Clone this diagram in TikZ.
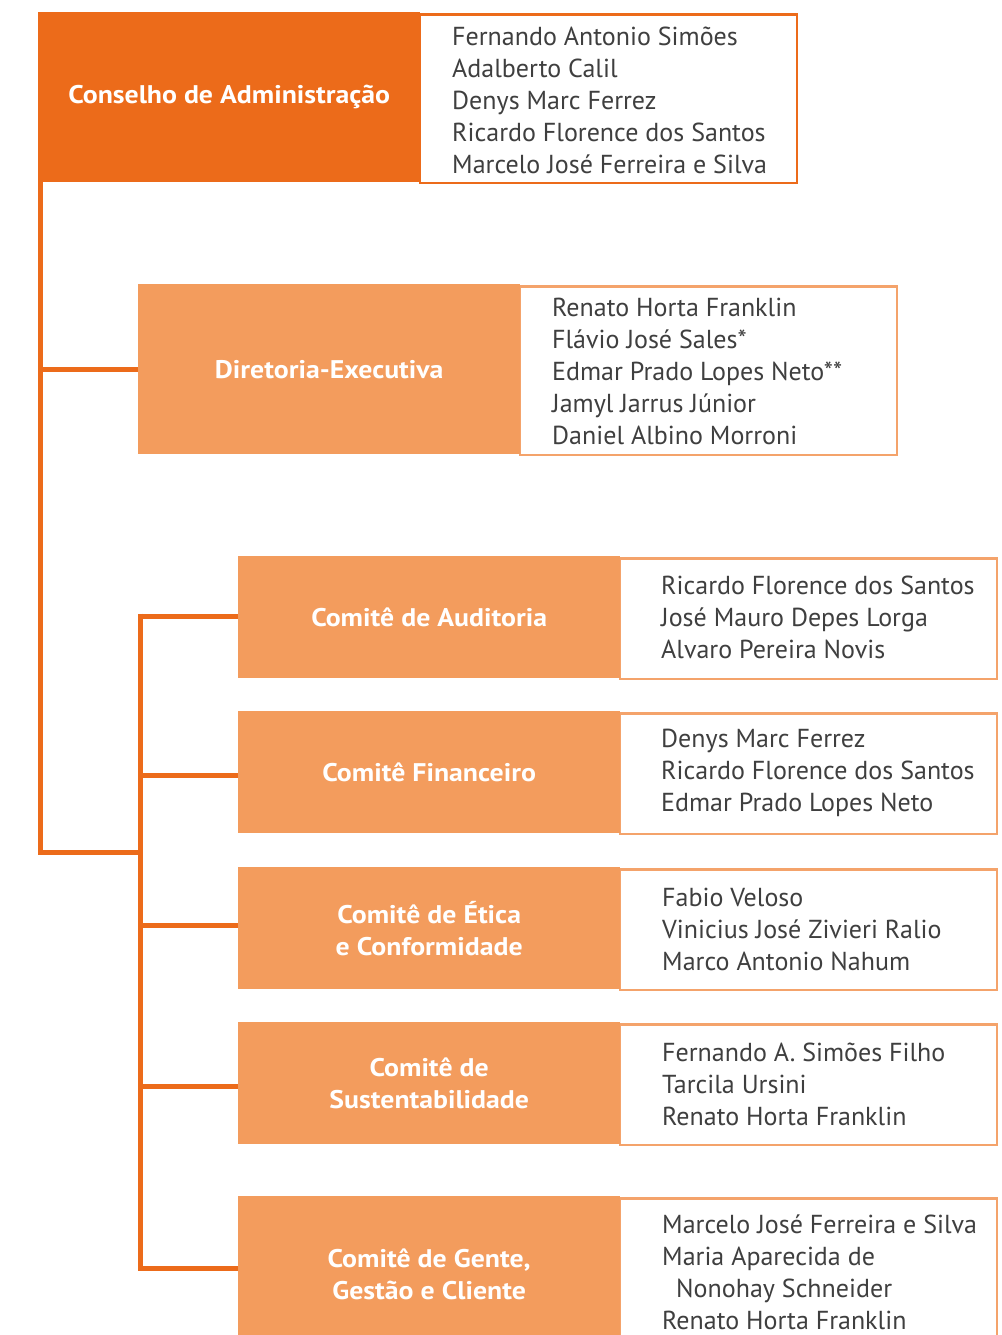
\documentclass[tikz,border=0pt]{standalone}
\usepackage{fontspec}
\setmainfont{PT Sans}
\newfontfamily\labelfont[FakeStretch=1.09]{PT Sans}
\definecolor{dko}{HTML}{EC6B1A}
\definecolor{lto}{HTML}{F39C5D}
\definecolor{ltb}{HTML}{F4A36B}
\definecolor{txt}{HTML}{3F3F3F}
\begin{document}
\begin{tikzpicture}[x=1pt,y=-1pt,
  headbox/.style={fill=#1, draw=none, minimum width=382pt, inner sep=0pt, anchor=north west,
    text=white, font=\labelfont\bfseries\fontsize{25.5}{32}\selectfont, align=center},
  namebox/.style={draw=#1, line width=2.5pt, fill=white, inner sep=0pt, anchor=north west},
  names/.style={anchor=west, inner sep=0pt, align=left, text=txt, font=\fontsize{26}{32}\selectfont},
  conn/.style={draw=dko, line width=5pt}
]
\useasboundingbox (0,0) rectangle (1001,1335);
% Conselho
\node[namebox=dko, minimum width=377pt, minimum height=168.5pt] (consw) at (418.5,13.25) {};
\node[headbox=dko, minimum height=170pt] (cons) at (38,12) {\raisebox{-3pt}{Conselho de Administração}};
\node[names] (consn) at (452,100) {Fernando Antonio Simões\\Adalberto Calil\\Denys Marc Ferrez\\Ricardo Florence dos Santos\\Marcelo José Ferreira e Silva};
% Diretoria
\node[namebox=ltb, minimum width=377pt, minimum height=168.5pt] (dirw) at (518.5,285.25) {};
\node[headbox=lto, minimum height=170pt] (dir) at (138,284) {\raisebox{-1pt}{Diretoria-Executiva}};
\node[names] (dirn) at (552,371) {Renato Horta Franklin\\Flávio José Sales*\\Edmar Prado Lopes Neto**\\Jamyl Jarrus Júnior\\Daniel Albino Morroni};
% Committees
\node[namebox=ltb, minimum width=377pt, minimum height=120.5pt] (audw) at (618.5,557.25) {};
\node[headbox=lto, minimum height=122pt] (aud) at (238,556) {\raisebox{-1pt}{Comitê de Auditoria}};
\node[names] (audn) at (661,617) {Ricardo Florence dos Santos\\José Mauro Depes Lorga\\Alvaro Pereira Novis};

\node[namebox=ltb, minimum width=377pt, minimum height=120.5pt] (finw) at (618.5,712.25) {};
\node[headbox=lto, minimum height=122pt] (fin) at (238,711) {\raisebox{-1pt}{Comitê Financeiro}};
\node[names] (finn) at (661,773) {Denys Marc Ferrez\\Ricardo Florence dos Santos\\Edmar Prado Lopes Neto};

\node[namebox=ltb, minimum width=377pt, minimum height=120.5pt] (etiw) at (618.5,868.25) {};
\node[headbox=lto, minimum height=122pt] (eti) at (238,867) {Comitê de Ética\\e Conformidade};
\node[names] (etin) at (662,929) {Fabio Veloso\\Vinicius José Zivieri Ralio\\Marco Antonio Nahum};

\node[namebox=ltb, minimum width=377pt, minimum height=120.5pt] (susw) at (618.5,1023.25) {};
\node[headbox=lto, minimum height=122pt] (sus) at (238,1022) {Comitê de\\Sustentabilidade};
\node[names] (susn) at (662,1084) {Fernando A. Simões Filho\\Tarcila Ursini\\Renato Horta Franklin};

\node[namebox=ltb, minimum width=377pt, minimum height=156pt] (genw) at (618.5,1197.25) {};
\node[headbox=lto, minimum height=156pt] (gen) at (238,1196) {Comitê de Gente,\\Gestão e Cliente};
\node[names] (genn) at (662,1272) {Marcelo José Ferreira e Silva\\Maria Aparecida de\\\hspace*{14pt}Nonohay Schneider\\Renato Horta Franklin};

% Connectors
\coordinate (top1) at (40.5,182);
\coordinate (j1) at (40.5,852);
\coordinate (j2) at (140.5,852);
\coordinate (b2top) at (140.5,616);
\coordinate (b2bot) at (140.5,1268);
\draw[conn] (top1) -- (j1) -- (j2);
\draw[conn] (top1 |- dir.west) -- (dir.west);
\draw[conn] ([yshift=2.5pt]b2top) -- ([yshift=-2.5pt]b2bot);
\draw[conn] (b2top) -- (b2top -| aud.west);
\draw[conn] (b2top |- 0,775) -- (aud.west |- 0,775);
\draw[conn] (b2top |- 0,925) -- (eti.west |- 0,925);
\draw[conn] (b2top |- 0,1086) -- (sus.west |- 0,1086);
\draw[conn] (b2bot) -- (b2bot -| gen.west);
\end{tikzpicture}
\end{document}
